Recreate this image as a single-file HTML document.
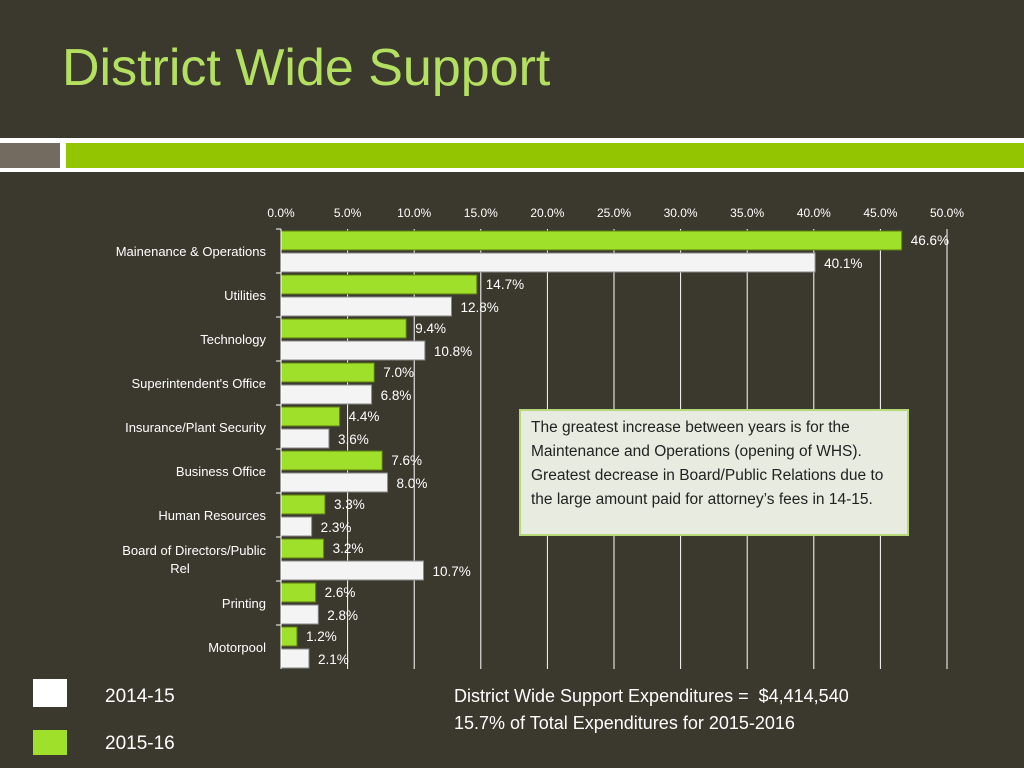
<!DOCTYPE html>
<html><head><meta charset="utf-8"><style>
body{margin:0;width:1024px;height:768px;background:#3b392d;font-family:"Liberation Sans",sans-serif;overflow:hidden;position:relative}
.abs{position:absolute}
</style></head><body>
<div class="abs" style="left:62px;top:38px;font-size:52px;color:#b4e061">District Wide Support</div>
<div class="abs" style="left:0;top:138px;width:1024px;height:34px;background:#fff"></div>
<div class="abs" style="left:0;top:143px;width:60px;height:25px;background:#736b5f"></div>
<div class="abs" style="left:66px;top:143px;width:958px;height:25px;background:#93c600"></div>
<svg id="chart" class="abs" style="left:0;top:0" width="1024" height="768"></svg>
<div class="abs" style="left:519px;top:409px;width:376px;height:118px;background:#e8ebe0;border:2px solid #b7d97a;padding:5px 0 0 10px;font-size:15.5px;line-height:24px;color:#222">The greatest increase between years is for the Maintenance and Operations (opening of WHS).&nbsp; Greatest decrease in Board/Public Relations due to the large amount paid for attorney’s fees in 14-15.</div>
<div class="abs" style="left:33px;top:679px;width:34px;height:28px;background:#fff"></div>
<div class="abs" style="left:105px;top:686px;font-size:19px;color:#fff">2014-15</div>
<div class="abs" style="left:33px;top:730px;width:34px;height:25px;background:#9fe02a"></div>
<div class="abs" style="left:105px;top:733px;font-size:19px;color:#fff">2015-16</div>
<div class="abs" style="left:454px;top:683px;font-size:18px;line-height:27px;color:#fff">District Wide Support Expenditures =&nbsp; $4,414,540<br>15.7% of Total Expenditures for 2015-2016</div>
<script>
const categories=["Mainenance & Operations","Utilities","Technology","Superintendent's Office","Insurance/Plant Security","Business Office","Human Resources","Board of Directors/Public Rel","Printing","Motorpool"];
const values1516=[46.6,14.7,9.4,7.0,4.4,7.6,3.3,3.2,2.6,1.2];
const values1415=[40.1,12.8,10.8,6.8,3.6,8.0,2.3,10.7,2.8,2.1];
const ticks=[0,5,10,15,20,25,30,35,40,45,50];
const svg=document.getElementById('chart');const NS='http://www.w3.org/2000/svg';
const X0=281,X1=947,Y0=229,BAND=44;
const x=v=>X0+(v-0)/50*(X1-X0);
function mk(t,a,txt){const e=document.createElementNS(NS,t);for(const k in a)e.setAttribute(k,a[k]);if(txt!==undefined)e.textContent=txt;svg.appendChild(e);return e;}
ticks.forEach(t=>{
 const l=mk('line',{x1:x(t),x2:x(t),y1:Y0,y2:Y0+BAND*categories.length,stroke:'#fff','stroke-width':1});
 
 
 const tx=mk('text',{x:x(t),y:217,'text-anchor':'middle','font-size':12,fill:'#fff','font-family':'Liberation Sans'},t.toFixed(1)+'%');
 
 
});
categories.forEach((c,i)=>{
 const top=Y0+i*BAND;
 const g=mk('rect',{x:x(0),y:top+2,width:x(values1516[i])-x(0),height:19,fill:'#9fe02a',stroke:'#5c7d12','stroke-width':1});
 
 
 const w=mk('rect',{x:x(0),y:top+24,width:x(values1415[i])-x(0),height:19,fill:'#f4f4f4',stroke:'#888','stroke-width':1});
 
 
 const l1=mk('text',{x:x(values1516[i])+9,y:top+16,'font-size':13.5,fill:'#fff','font-family':'Liberation Sans'},values1516[i].toFixed(1)+'%');
 
 
 const l2=mk('text',{x:x(values1415[i])+9,y:top+39,'font-size':13.5,fill:'#fff','font-family':'Liberation Sans'},values1415[i].toFixed(1)+'%');
 
 
 const tk=mk('line',{x1:276,x2:281,y1:top,y2:top,stroke:'#fff'});
 
 
 const parts=c==="Board of Directors/Public Rel"?["Board of Directors/Public","Rel"]:[c];
 if(parts.length===1){
  const t=mk('text',{x:266,y:top+27,'text-anchor':'end','font-size':13,fill:'#fff','font-family':'Liberation Sans'},c);
  
  
 } else {
  const t=mk('text',{x:266,y:top+18,'text-anchor':'end','font-size':13,fill:'#fff','font-family':'Liberation Sans'},parts[0]);
  
  
  const t2=mk('text',{x:180,y:top+36,'text-anchor':'middle','font-size':13,fill:'#fff','font-family':'Liberation Sans'},parts[1]);
  
  
 }
});
const ax=mk('line',{x1:x(0),x2:x(0),y1:Y0,y2:Y0+BAND*categories.length,stroke:'#fff'});


</script>
</body></html>
